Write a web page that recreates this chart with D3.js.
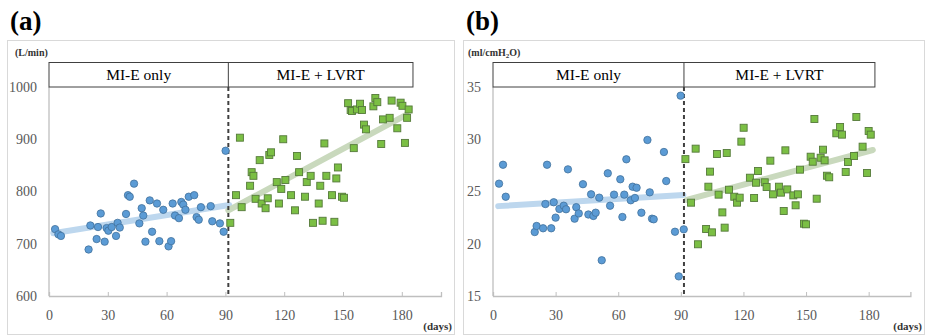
<!DOCTYPE html>
<html><head><meta charset="utf-8">
<script src="https://cdn.jsdelivr.net/npm/d3@7"></script>
</head><body style="margin:0;background:#fff"><svg id="c" width="926" height="336"></svg>
<script>
// ---------- DATA ----------
const xTicks = [0, 30, 60, 90, 120, 150, 180];
const phaseLabels = ["MI-E only", "MI-E + LVRT"];
const switchDay = 91.5;

// Panel (a): L/min
const aTicks = [600, 700, 800, 900, 1000];
const aMieDays = [3.1,4.8,6.1,20.2,21.1,24.3,25,26.4,28.4,29.4,30.3,32,34.2,35,36.1,39.3,40.3,41.2,43.4,46.1,47.3,48.1,49.2,51.4,52.6,55.1,56.3,58.3,61,62.3,63.1,64.3,66.3,67.5,68.5,69.6,71.3,74.1,75.3,76.4,77.5,82.5,83.3,87.2,89.1,90.1];
const aMieVals = [728,718,715,689,735,709,732,758,704,730,725,732,715,740,731,757,793,790,815,739,768,754,704,783,723,777,705,765,695,705,777,754,749,780,775,765,790,793,751,746,770,772,743,739,723,878];
const aLvrtDays = [92.5,95.4,97.4,98.3,102.6,103.4,104.3,105.4,107.5,108.5,110.5,111.6,112.4,113.3,116.2,117.3,118.5,119.5,120.6,123.5,125.5,126.5,127.6,130.6,131.5,133.5,134.7,137.6,138.4,139.6,140.5,141.5,144.4,145.6,146.6,147.4,149.5,150.5,152.6,153.9,154.6,155.5,157.1,158.7,159.7,160.7,161.7,165.5,166.5,167.5,169.5,170.4,173.8,174.8,177.7,179.4,180.3,181.6,182.7,183.5];
const aLvrtVals = [740,793,903,770,811,837,830,786,860,777,768,787,870,875,818,777,805,900,822,793,764,868,837,790,818,830,740,777,811,744,892,830,793,742,825,846,790,788,969,956,954,883,957,968,956,928,919,963,979,971,891,938,941,974,921,970,964,893,941,957];
const aMieTrend = [[2.2, 720], [92, 774]];
const aLvrtTrend = [[91.5, 764], [182.5, 947]];

// Panel (b): ml/cmH2O
const bTicks = [15, 20, 25, 30, 35];
const bMieDays = [2.9,4.8,6.1,20,20.9,24,25.1,25.9,27.9,29.1,30,31.8,33.9,35,35.9,39.1,39.9,41.1,43.1,45.7,47,48.1,49.2,50.9,52.1,55,56.1,58,61,62,62.9,63.9,66,66.9,68,68.8,71.1,74,75.1,76.2,77,81.9,83,87.2,89,89.9,91.4];
const bMieVals = [25.75,27.56,24.5,21.12,21.7,21.48,23.8,27.56,21.48,23.97,22.5,23.33,23.64,23.3,27.12,22.4,23.5,22.9,25.7,22.8,24.73,22.66,22.97,24.41,18.42,26.74,23.64,24.7,26.17,22.56,24.7,28.08,24.16,25.46,24.38,25.36,22.97,29.93,24.92,22.4,22.34,28.78,26.0,21.15,16.88,34.17,21.38];
const bLvrtDays = [92.2,94.9,97.1,98.2,102.1,103.2,104,104.9,107.3,108.1,109.9,111,112,113.1,115.6,116.9,118.2,119,120.1,123.1,125.1,126,127,130.2,131.1,132.9,134.2,137,138,139.3,140.1,141,143.9,145,146.1,147.1,149,150,152.2,153.2,154,155.1,157,158.1,158.9,160,161.1,164.5,166.3,167.2,169,170.1,173,174.1,177.1,179.2,180,181];
const bLvrtVals = [28.1,23.93,29.1,19.95,21.41,25.46,26.9,21.09,28.59,24.7,23.0,21.54,28.68,25.17,24.5,23.93,24.41,29.77,31.1,26.32,24.38,25.84,26.96,25.88,25.43,27.95,24.73,25.46,24.89,23.13,28.94,25.2,24.63,23.68,24.73,27.09,21.92,21.86,28.33,27.85,31.94,24.31,28.23,29.0,27.98,26.51,26.36,30.57,31.17,30.44,26.87,27.82,28.4,32.13,29.29,26.77,30.79,30.44];
const bMieTrend = [[2.5, 23.6], [91.2, 24.67]];
const bLvrtTrend = [[92.8, 24.19], [182, 28.97]];

// ---------- DRAW ----------
const FONT = "'Liberation Serif', 'Times New Roman', Times, serif";
const svg = d3.select("#c");
svg.append("rect").attr("width", 926).attr("height", 336).attr("fill", "#fff");

function txt(sel) { return sel.attr("font-family", FONT).style("font-family", FONT); }

function panel(o) {
  const g = svg.append("g");
  g.append("rect").attr("x", o.frame[0] + 0.5).attr("y", o.frame[1] + 0.5)
    .attr("width", o.frame[2] - o.frame[0]).attr("height", o.frame[3] - o.frame[1])
    .attr("fill", "none").attr("stroke", "#d9d9d9").attr("stroke-width", 1);
  txt(svg.append("text")).attr("x", o.frame[0] + 3).attr("y", 30).attr("font-size", 27)
    .attr("font-weight", "bold").attr("fill", "#000").text(o.letter);

  const x = d3.scaleLinear().domain([0, 200]).range(o.xr);
  const y = d3.scaleLinear().domain(o.yd).range([296, 87]);

  g.append("line").attr("x1", x(0)).attr("x2", x(0)).attr("y1", y(o.yd[1])).attr("y2", y(o.yd[0]))
    .attr("stroke", "#bfbfbf").attr("stroke-width", 1.3);
  const xa = g.append("g").attr("transform", `translate(0,${y(o.yd[0])})`)
    .call(d3.axisBottom(x).tickValues(xTicks).tickSize(-4).tickFormat(d3.format("d")));
  txt(xa);
  xa.select(".domain").attr("stroke", "#bfbfbf").attr("stroke-width", 1.3);
  xa.selectAll(".tick line").attr("stroke", "#bfbfbf");
  txt(xa.selectAll(".tick text")).attr("y", 14).attr("dy", "0.71em").attr("font-size", 14)
    .style("font-size", "14px").attr("fill", "#595959");

  const ya = g.append("g").attr("transform", `translate(${x(0)},0)`)
    .call(d3.axisLeft(y).tickValues(o.yt).tickSize(0).tickPadding(12).tickFormat(d3.format("d")));
  txt(ya);
  ya.select(".domain").remove();
  txt(ya.selectAll(".tick text")).attr("font-size", 14).style("font-size", "14px").attr("fill", "#595959");

  const ul = txt(svg.append("text")).attr("x", o.unitX).attr("y", 56).attr("font-size", 10)
    .attr("font-weight", "bold").attr("fill", "#333");
  o.unit.forEach(p => {
    const t = ul.append("tspan").text(p.t);
    if (p.sub) t.attr("font-size", 7).attr("dy", 2);
    if (p.after) t.attr("dy", -2);
  });
  txt(svg.append("text")).attr("x", o.frame[2] - 2).attr("y", 330).attr("text-anchor", "end")
    .attr("font-size", 11).attr("font-weight", "bold").attr("fill", "#333").text("(days)");

  const hy0 = 62.5, hy1 = y(o.yd[1]);
  g.append("rect").attr("x", x(0)).attr("y", hy0).attr("width", x(o.boxEnd) - x(0))
    .attr("height", hy1 - hy0).attr("fill", "#fff").attr("stroke", "#404040").attr("stroke-width", 1);
  g.append("line").attr("x1", x(switchDay)).attr("x2", x(switchDay)).attr("y1", hy0).attr("y2", hy1)
    .attr("stroke", "#404040").attr("stroke-width", 1);
  txt(svg.append("text")).attr("x", (x(0) + x(switchDay)) / 2).attr("y", (hy0 + hy1) / 2 + 5.5)
    .attr("text-anchor", "middle").attr("font-size", 15.5).attr("fill", "#000").text(phaseLabels[0]);
  txt(svg.append("text")).attr("x", (x(switchDay) + x(o.boxEnd)) / 2).attr("y", (hy0 + hy1) / 2 + 5.5)
    .attr("text-anchor", "middle").attr("font-size", 15.5).attr("fill", "#000").text(phaseLabels[1]);

  const line = d3.line().x(d => x(d[0])).y(d => y(d[1]));
  g.append("path").attr("d", line(o.mieTrend)).attr("stroke", "#bdd7ee").attr("stroke-width", 6)
    .attr("fill", "none").attr("stroke-linecap", "round");
  g.append("path").attr("d", line(o.lvrtTrend)).attr("stroke", "#c9d9bd").attr("stroke-width", 6)
    .attr("fill", "none").attr("stroke-linecap", "round");

  g.append("line").attr("x1", x(switchDay)).attr("x2", x(switchDay)).attr("y1", hy1).attr("y2", y(o.yd[0]))
    .attr("stroke", "#404040").attr("stroke-width", 2).attr("stroke-dasharray", "4,3");

  g.append("g").selectAll("circle").data(o.mieDays.map((d, i) => [d, o.mieVals[i]])).join("circle")
    .attr("cx", d => x(d[0])).attr("cy", d => y(d[1])).attr("r", 3.7)
    .attr("fill", "#5b9bd5").attr("stroke", "#41719c").attr("stroke-width", 0.8);
  const s = 7;
  g.append("g").selectAll("rect").data(o.lvrtDays.map((d, i) => [d, o.lvrtVals[i]])).join("rect")
    .attr("x", d => x(d[0]) - s / 2).attr("y", d => y(d[1]) - s / 2).attr("width", s).attr("height", s)
    .attr("fill", "#7bbf44").attr("stroke", "#557a3a").attr("stroke-width", 0.9);
}

panel({
  letter: "(a)", frame: [7, 40, 454, 334], xr: [49, 441], yd: [600, 1000], yt: aTicks,
  unit: [{t: "(L/min)"}], unitX: 15, boxEnd: 185.7,
  mieDays: aMieDays, mieVals: aMieVals, lvrtDays: aLvrtDays, lvrtVals: aLvrtVals,
  mieTrend: aMieTrend, lvrtTrend: aLvrtTrend
});
panel({
  letter: "(b)", frame: [463, 40, 924, 334], xr: [493, 910.4], yd: [15, 35], yt: bTicks,
  unit: [{t: "(ml/cmH"}, {t: "2", sub: true}, {t: "O)", after: true}], unitX: 468, boxEnd: 183,
  mieDays: bMieDays, mieVals: bMieVals, lvrtDays: bLvrtDays, lvrtVals: bLvrtVals,
  mieTrend: bMieTrend, lvrtTrend: bLvrtTrend
});
</script></body></html>
